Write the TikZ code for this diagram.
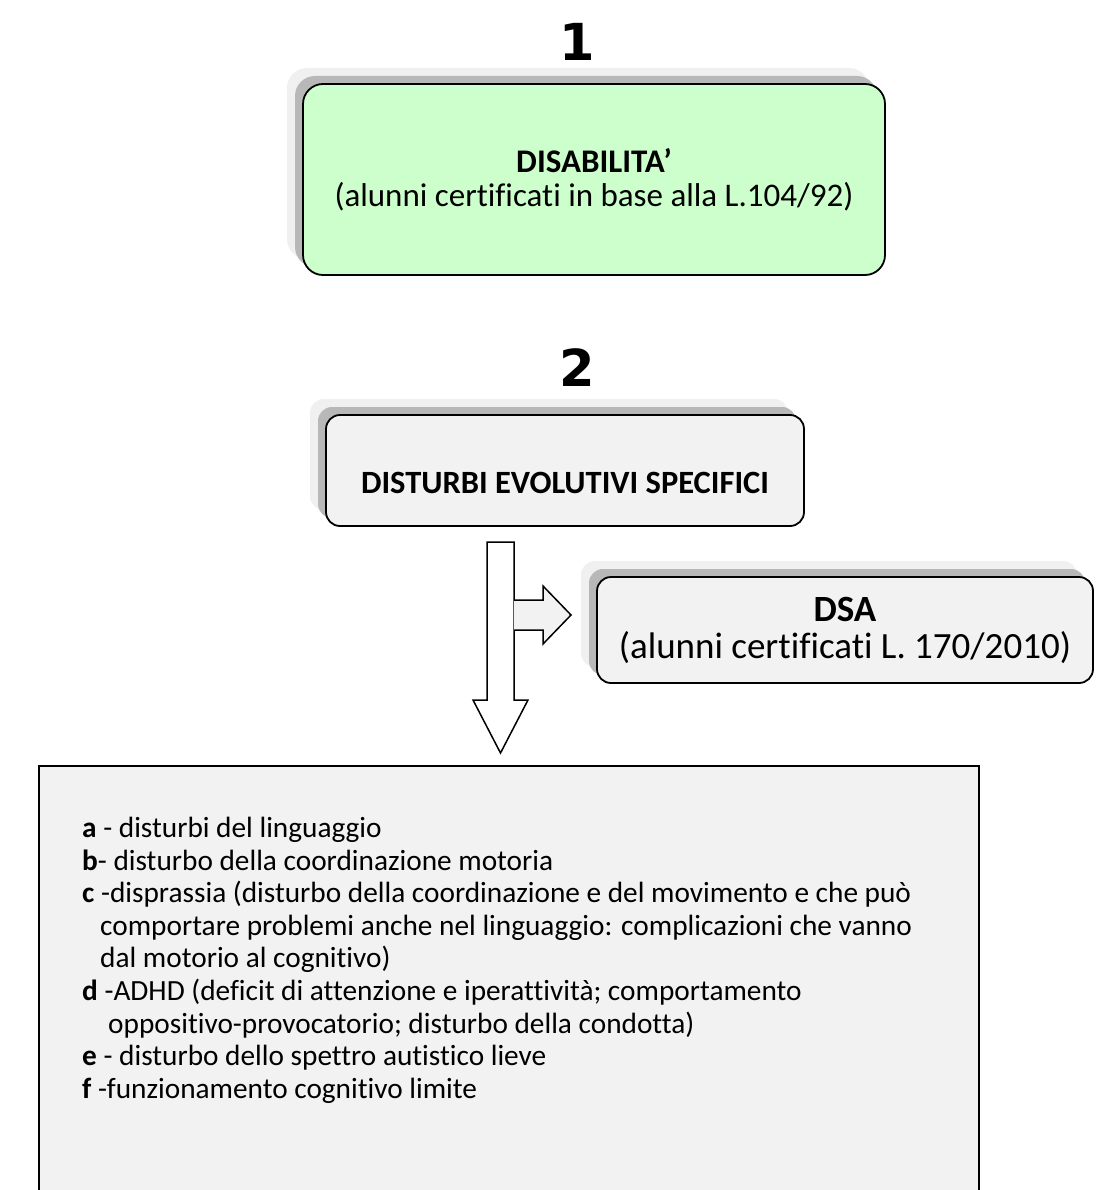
\documentclass[tikz,border=0pt]{standalone}
\usepackage{fontspec}
\setmainfont{Carlito}[Ligatures={NoCommon}]
\newfontfamily\numfont{DejaVu Sans}
\usepackage{tikz}
\usetikzlibrary{positioning, calc, shadows}
\definecolor{VerdeChiaro}{RGB}{204, 255, 204}
\definecolor{GrigioBox}{RGB}{242, 242, 242}
\definecolor{OmbraScura}{RGB}{184, 184, 184}
\definecolor{OmbraChiara}{RGB}{240, 240, 240}

\begin{document}
\begin{tikzpicture}[x=1pt, y=-1pt,
  box/.style={
    rectangle, rounded corners=20pt,
    draw=black, line width=1.8pt, fill=GrigioBox,
    copy shadow={shadow xshift=-16pt, shadow yshift=16pt, draw=none, fill=OmbraChiara},
    copy shadow={shadow xshift=-8pt, shadow yshift=8pt, draw=none, fill=OmbraScura},
    align=center, inner sep=0pt,
    font=\fontsize{33}{34}\selectfont
  },
  num/.style={font=\numfont\bfseries\fontsize{51}{51}\selectfont, inner sep=0pt},
  freccia/.style={draw=black, line width=1.5pt, line join=miter}
]
  \clip (0,0) rectangle (1095,1190);
  \fill[white] (0,0) rectangle (1095,1190);

  % 1 - disabilita'
  \node[box, fill=VerdeChiaro, minimum width=582pt, minimum height=191pt] (dis) at (594,179.5)
    {\textbf{DISABILITA’}\\(alunni certificati in base alla L.104/92)};
  \node[num, above=22pt of dis, xshift=-17pt] (uno) {1};

  % 2 - disturbi evolutivi specifici
  \node[box, rounded corners=14pt, minimum width=478pt, minimum height=111pt,
        text height=45pt, text depth=0pt, font=\fontsize{32.5}{34}\selectfont] (des) at (565,470.5)
    {\textbf{DISTURBI EVOLUTIVI SPECIFICI}};
  \node[num, above=27pt of des, xshift=12pt] (due) {2};

  \node[box, rounded corners=14pt, minimum width=496pt, minimum height=106pt,
        font=\fontsize{37}{37}\selectfont] (dsa) at (845,630)
    {\textbf{DSA}\\(alunni certificati L. 170/2010)};

  % riquadro con l'elenco
  \node[draw=black, line width=2pt, fill=GrigioBox, minimum width=940pt, minimum height=480pt,
        anchor=north west, inner sep=0pt] (riquadro) at (38,765) {};
  \node[anchor=north west, align=left, inner sep=0pt, font=\fontsize{29.3}{32.6}\selectfont]
    (elenco) at (82,817) {%
    \textbf{a} - disturbi del linguaggio\\
    \textbf{b}- disturbo della coordinazione motoria\\
    \textbf{c} -disprassia (disturbo della coordinazione e del movimento e che può\\
    \hspace*{18pt}comportare problemi anche nel linguaggio: complicazioni che vanno\\
    \hspace*{18pt}dal motorio al cognitivo)\\
    \textbf{d} -ADHD (deficit di attenzione e iperattività; comportamento\\
    \hspace*{26pt}oppositivo-provocatorio; disturbo della condotta)\\
    \textbf{e} - disturbo dello spettro autistico lieve\\
    \textbf{f} -funzionamento cognitivo limite};

  % frecce
  \coordinate (punta) at (500.5,753);
  \coordinate (puntadsa) at (571,615);
  \filldraw[freccia, fill=white] (487,542) -- (514,542) -- (514,700) -- (528,700)
    -- (punta) -- (473,700) -- (487,700) -- cycle;
  \fill[GrigioBox] (514,600) -- (543,600) -- (543,586) -- (puntadsa) -- (543,644)
    -- (543,630) -- (514,630) -- cycle;
  \draw[freccia] (514,600) -- (543,600) -- (543,586) -- (puntadsa) -- (543,644)
    -- (543,630) -- (514,630);
\end{tikzpicture}
\end{document}
